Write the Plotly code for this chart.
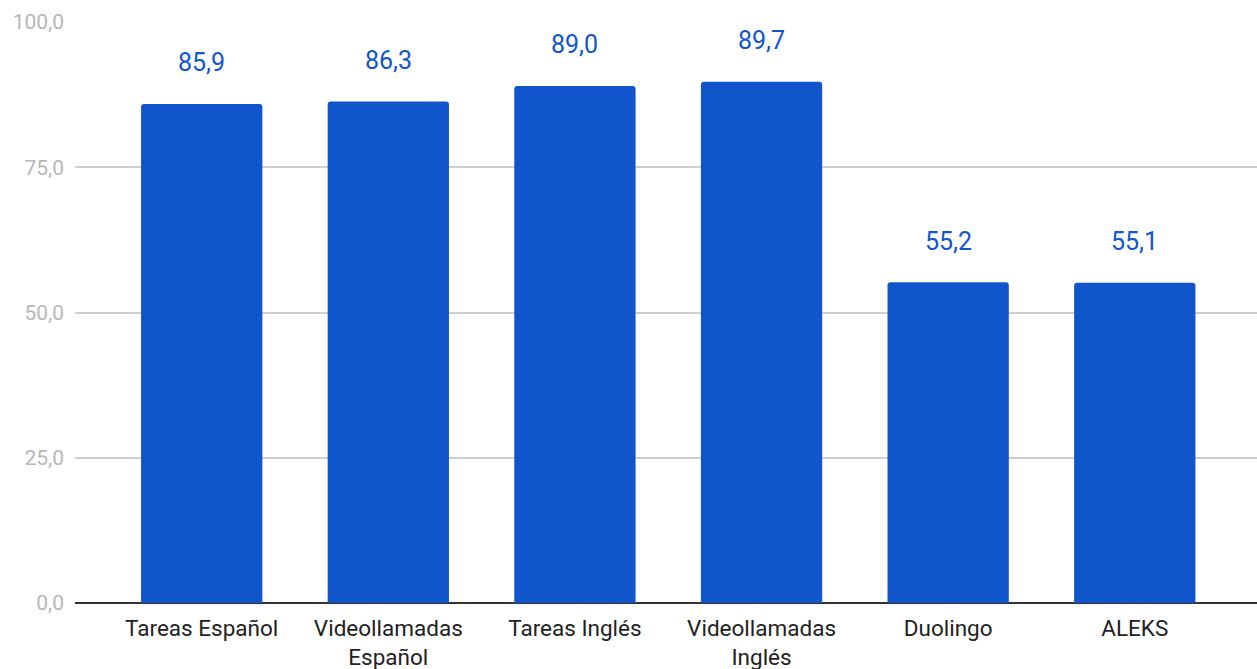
import plotly.graph_objects as go

categories = ["Tareas Español", "Videollamadas<br>Español", "Tareas Inglés",
              "Videollamadas<br>Inglés", "Duolingo", "ALEKS"]
values = [85.9, 86.3, 89.0, 89.7, 55.2, 55.1]
value_labels = ["85,9", "86,3", "89,0", "89,7", "55,2", "55,1"]
y_ticks = [0, 25, 50, 75, 100]
y_tick_labels = ["0,0", "25,0", "50,0", "75,0", "100,0"]

BLUE = "#1155CC"

fig = go.Figure()
fig.add_trace(go.Bar(
    x=categories, y=values,
    marker=dict(color=BLUE, line=dict(width=0), cornerradius=3),
    width=0.65,
    hoverinfo="skip",
))

for c, v, t in zip(categories, values, value_labels):
    fig.add_annotation(x=c, y=v, text=t, showarrow=False, yanchor="middle",
                       yshift=41, font=dict(family="Roboto", size=25, color=BLUE))

fig.update_layout(
    width=1257, height=669,
    margin=dict(l=75, r=0, t=22, b=66, autoexpand=False),
    paper_bgcolor="white", plot_bgcolor="white",
    showlegend=False,
    font=dict(family="Roboto"),
    xaxis=dict(
        range=[-0.679, 5.655],
        showgrid=False,
        showline=False,
        automargin=False,
        tickfont=dict(family="Roboto", size=22.5, color="#222222"),
        ticks="outside", ticklen=5, tickcolor="rgba(0,0,0,0)",
        fixedrange=True,
    ),
    yaxis=dict(
        range=[0, 100],
        automargin=False,
        tickvals=y_ticks, ticktext=y_tick_labels,
        showgrid=True, gridcolor="#cfcfcf", gridwidth=1.5,
        zeroline=True, zerolinecolor="#333333", zerolinewidth=2,
        showline=False,
        tickfont=dict(family="Roboto", size=21, color="#b7b7b7"),
        ticklabelstandoff=10,
        fixedrange=True,
    ),
)

fig.write_html("out.html", config={"displayModeBar": False},
               post_script="document.body.style.margin='0';document.body.style.overflow='hidden';")
